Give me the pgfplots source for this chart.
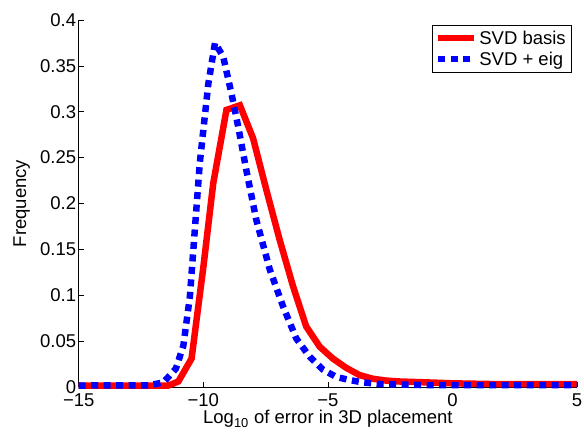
\documentclass[border=0pt]{standalone}
\usepackage{pgfplots}
\pgfplotsset{compat=1.18}
\usepackage{fontspec}
\setmainfont{Liberation Sans}
\begin{document}
\begin{tikzpicture}
\begin{axis}[name=ax, scale only axis, width=498.3pt, height=367pt,
  xmin=-15, xmax=5, ymin=0, ymax=0.4,
  axis x line=bottom, axis y line=left,
  axis line style={-, black, line width=0.6pt},
  xtick={-15,-10,-5,0,5}, xticklabels={−15,−10,−5,0,5},
  ytick={0,0.05,0.1,0.15,0.2,0.25,0.3,0.35,0.4},
  yticklabels={0,0.05,0.1,0.15,0.2,0.25,0.3,0.35,0.4},
  tick align=inside, major tick length=5pt,
  tick style={black, line width=0.6pt},
  tick label style={font=\fontsize{18.5}{20}\selectfont},
  xticklabel style={yshift=-3pt},
  yticklabel style={xshift=1pt},
  xlabel={Log\textsubscript{10} of error in 3D placement},
  ylabel={Frequency},
  label style={font=\fontsize{18.5}{20}\selectfont},
  xlabel style={at={(axis description cs:0.5,0)}, anchor=base, yshift=-37pt},
  ylabel style={at={(axis description cs:0,0.5)}, anchor=base, rotate=0, yshift=52.5pt},
  clip=false,
  legend style={at={(1,1)}, anchor=north east, xshift=-6pt, yshift=-5pt,
    draw=black, line width=0.5pt, fill=white,
    font=\fontsize{18.5}{20}\selectfont, inner xsep=3pt, inner ysep=3.5pt,
    row sep=2pt},
  legend cell align=left,
  legend image code/.code={\draw[#1] (0pt,0pt) -- (36pt,0pt);},
]
\addplot[red, line width=6.5pt] coordinates {
(-15,0.0016) (-11.4,0.0016) (-11.0,0.006) (-10.47,0.031) (-10.0,0.13)
(-9.6,0.222) (-9.07,0.302) (-8.53,0.307) (-8.0,0.271) (-7.47,0.215)
(-6.93,0.16) (-6.4,0.11) (-5.87,0.066) (-5.33,0.044) (-4.8,0.031)
(-4.27,0.021) (-3.73,0.013) (-3.2,0.009) (-2.67,0.007) (-2.13,0.006)
(-1,0.005) (0,0.004) (2,0.003) (5,0.003)};
\addlegendentry{SVD basis}
\addplot[blue, line width=6.5pt, dash pattern=on 7pt off 5.5pt] coordinates {
(-15,0.0016) (-12.2,0.0018) (-11.6,0.005) (-11.1,0.02) (-10.8,0.045)
(-10.54,0.098) (-10.14,0.244) (-9.8,0.33) (-9.53,0.375) (-9.2,0.36)
(-8.87,0.32) (-8.6,0.284) (-8.27,0.236) (-7.87,0.182) (-7.33,0.128)
(-6.8,0.088) (-6.27,0.053) (-5.73,0.033) (-5.2,0.019) (-4.67,0.011)
(-4.13,0.0076) (-3.6,0.005) (-2.8,0.003) (-1,0.002) (5,0.002)};
\addlegendentry{SVD + eig}
\end{axis}
\pgfresetboundingbox
\path[use as bounding box] ([xshift=-78.7pt,yshift=-45pt]ax.south west) rectangle ([xshift=7pt,yshift=20pt]ax.north east);
\end{tikzpicture}
\end{document}
